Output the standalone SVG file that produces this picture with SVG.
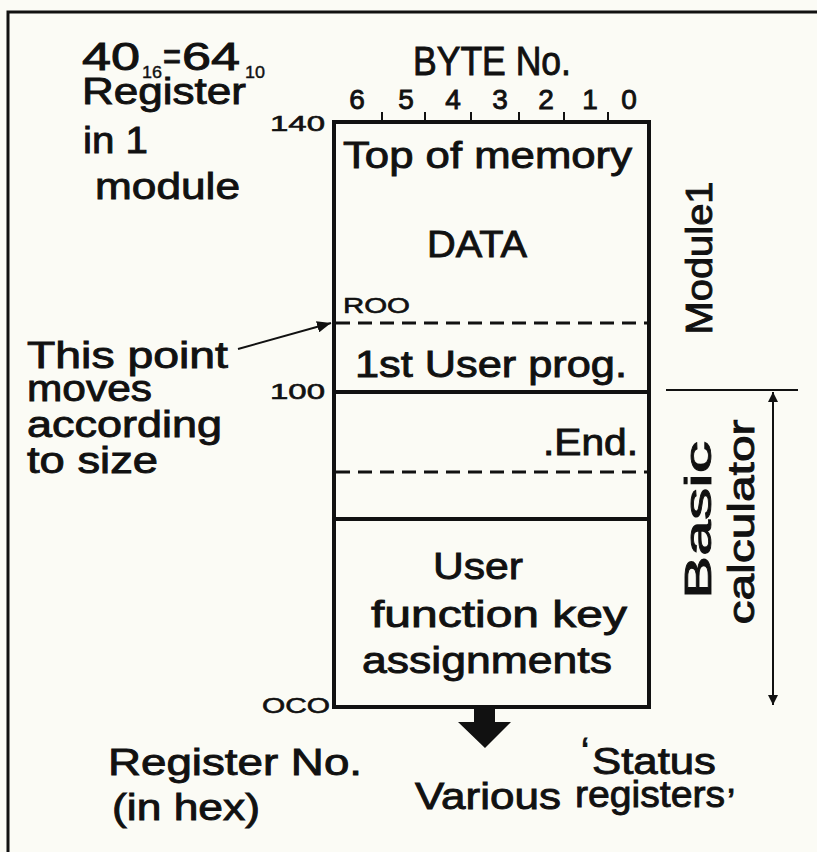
<svg xmlns="http://www.w3.org/2000/svg" width="817" height="852" viewBox="0 0 817 852">
<defs>
<style>
text{font-family:"Liberation Sans",Arial,sans-serif;font-weight:normal;fill:#111;stroke:#111;stroke-width:0.9px}
.b{font-size:37px}
.s{font-size:22px;stroke-width:0.6px}
.ln{stroke:#111;fill:none}
.box{stroke:#111;stroke-width:4;fill:none}
.dash{stroke:#111;stroke-width:3;stroke-dasharray:14 8;fill:none}
</style>
<marker id="ah" viewBox="0 0 10 10" refX="10" refY="5" markerWidth="10" markerHeight="10" markerUnits="userSpaceOnUse" orient="auto-start-reverse"><path d="M0,0 L10,5 L0,10 z" fill="#111"/></marker>
<marker id="ah2" viewBox="0 0 12 10" refX="12" refY="5" markerWidth="14" markerHeight="12" markerUnits="userSpaceOnUse" orient="auto-start-reverse"><path d="M0,0 L12,5 L0,10 z" fill="#111"/></marker>
</defs>
<rect width="817" height="852" fill="#fbfbf5"/>
<path class="ln" stroke-width="3" d="M8,852 V12 H817"/>

<g id="header">
<text x="82" y="70" style="font-size:38px" textLength="58" lengthAdjust="spacingAndGlyphs">40</text>
<text x="142" y="78" style="font-size:17px;stroke-width:0.4px" textLength="20" lengthAdjust="spacingAndGlyphs">16</text>
<text x="163" y="70" style="font-size:38px" textLength="18" lengthAdjust="spacingAndGlyphs">=</text>
<text x="182" y="70" style="font-size:38px" textLength="58" lengthAdjust="spacingAndGlyphs">64</text>
<text x="245" y="78" style="font-size:17px;stroke-width:0.4px" textLength="20" lengthAdjust="spacingAndGlyphs">10</text>
<text x="82" y="104" class="b" textLength="164" lengthAdjust="spacingAndGlyphs">Register</text>
<text x="83" y="153" class="b" textLength="65" lengthAdjust="spacingAndGlyphs">in 1</text>
<text x="95" y="199" class="b" textLength="145" lengthAdjust="spacingAndGlyphs">module</text>
<text x="413" y="75" style="font-size:40px" textLength="158" lengthAdjust="spacingAndGlyphs">BYTE No.</text>
</g>

<g id="byte-ruler">
<text x="357" y="109" style="font-size:28px" text-anchor="middle">6</text>
<text x="406" y="109" style="font-size:28px" text-anchor="middle">5</text>
<text x="453" y="109" style="font-size:28px" text-anchor="middle">4</text>
<text x="500" y="109" style="font-size:28px" text-anchor="middle">3</text>
<text x="546" y="109" style="font-size:28px" text-anchor="middle">2</text>
<text x="590" y="109" style="font-size:28px" text-anchor="middle">1</text>
<text x="629" y="109" style="font-size:28px" text-anchor="middle">0</text>
<path class="ln" stroke-width="2" d="M382,112 V122 M425,112 V122 M471,112 V122 M519,112 V122 M564,112 V122 M608,112 V122"/>
</g>

<g id="memory-map">
<rect class="box" x="334" y="122" width="315" height="585"/>
<text x="343" y="168" class="b" textLength="289" lengthAdjust="spacingAndGlyphs">Top of memory</text>
<text x="477" y="257" class="b" text-anchor="middle" textLength="100" lengthAdjust="spacingAndGlyphs">DATA</text>
<text x="343" y="313" class="s" textLength="67" lengthAdjust="spacingAndGlyphs">ROO</text>
<line class="dash" x1="336" y1="323" x2="648" y2="323"/>
<text x="355" y="377" class="b" textLength="272" lengthAdjust="spacingAndGlyphs">1st User prog.</text>
<line class="ln" stroke-width="4" x1="334" y1="392" x2="649" y2="392"/>
<text x="543" y="455" class="b" textLength="95" lengthAdjust="spacingAndGlyphs">.End.</text>
<line class="dash" x1="336" y1="472" x2="648" y2="472"/>
<line class="ln" stroke-width="4" x1="334" y1="519" x2="649" y2="519"/>
<text x="478" y="579" class="b" text-anchor="middle" textLength="90" lengthAdjust="spacingAndGlyphs">User</text>
<text x="371" y="627" class="b" textLength="256" lengthAdjust="spacingAndGlyphs">function key</text>
<text x="362" y="673" class="b" textLength="250" lengthAdjust="spacingAndGlyphs">assignments</text>
</g>

<g id="addresses">
<text x="325" y="131" class="s" text-anchor="end" textLength="55" lengthAdjust="spacingAndGlyphs">140</text>
<text x="325" y="399" class="s" text-anchor="end" textLength="55" lengthAdjust="spacingAndGlyphs">100</text>
<text x="330" y="713" class="s" text-anchor="end" textLength="68" lengthAdjust="spacingAndGlyphs">OCO</text>
</g>

<g id="note">
<text x="27" y="368" class="b" textLength="201" lengthAdjust="spacingAndGlyphs">This point</text>
<text x="27" y="401" class="b" textLength="125" lengthAdjust="spacingAndGlyphs">moves</text>
<text x="27" y="437" class="b" textLength="195" lengthAdjust="spacingAndGlyphs">according</text>
<text x="27" y="473" class="b" textLength="131" lengthAdjust="spacingAndGlyphs">to size</text>
</g>

<g id="module1">
<text transform="translate(712,258) rotate(-90)" class="b" text-anchor="middle" textLength="153" lengthAdjust="spacingAndGlyphs">Module1</text>
</g>

<g id="basic-calculator">
<text transform="translate(711,520) rotate(-90)" class="b" text-anchor="middle" textLength="158" lengthAdjust="spacingAndGlyphs">Basic</text>
<text transform="translate(754,522) rotate(-90)" class="b" text-anchor="middle" textLength="205" lengthAdjust="spacingAndGlyphs">calculator</text>
</g>

<g id="footer">
<text x="108" y="775" class="b" textLength="254" lengthAdjust="spacingAndGlyphs">Register No.</text>
<text x="112" y="820" class="b" textLength="148" lengthAdjust="spacingAndGlyphs">(in hex)</text>
<text x="415" y="809" class="b" textLength="146" lengthAdjust="spacingAndGlyphs">Various</text>
<text x="581" y="764" class="b">‘</text>
<text x="592" y="774" class="b" textLength="124" lengthAdjust="spacingAndGlyphs">Status</text>
<text x="575" y="807" class="b" textLength="150" lengthAdjust="spacingAndGlyphs">registers</text>
<text x="727" y="815" class="b">’</text>
</g>

<g id="connectors">
<line class="ln" stroke-width="2" x1="238" y1="349" x2="331" y2="323" marker-end="url(#ah2)"/>
<line class="ln" stroke-width="2" x1="666" y1="390" x2="798" y2="390"/>
<line class="ln" stroke-width="2" x1="773" y1="392" x2="773" y2="705" marker-start="url(#ah)" marker-end="url(#ah)"/>
<path d="M474,707 H495 V722 H511 L485,748 L458,722 H474 Z" fill="#111"/>
</g>
</svg>
